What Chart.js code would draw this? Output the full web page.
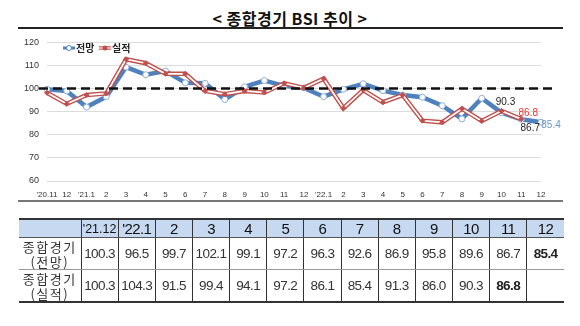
<!DOCTYPE html>
<html>
<head>
<meta charset="utf-8">
<script src="https://cdn.jsdelivr.net/npm/chart.js@4.4.0/dist/chart.umd.min.js"></script>
<style>
  body { margin: 0; background: #fff; }
  #wrap { position: relative; width: 580px; height: 326px; overflow: hidden; font-family: "Noto Sans CJK KR", sans-serif; }
  #title { position: absolute; left: 0; top: 6px; width: 580px; text-align: center; font-size: 16px; font-weight: bold; color: #111; letter-spacing: 0.5px; }
  #topLine { position: absolute; left: 18px; top: 27px; width: 545px; height: 2px; background: #222; }
  #botLine { position: absolute; left: 18px; top: 200px; width: 545px; height: 1.5px; background: #777; }
  #chartBox { position: absolute; left: 0; top: 29px; }
  #bsiTable { position: absolute; left: 19px; top: 218px; border-collapse: collapse; table-layout: fixed; width: 545px; }
  #bsiTable td { text-align: center; padding: 0; font-family: "Liberation Sans", Arial, sans-serif; color: #333; font-size: 13.5px; letter-spacing: -0.6px; border-left: 1px solid #333; }
  #bsiTable td:first-child { border-left: none; }
  #bsiTable tr.head td { background: #c6d9f1; height: 15px; border-top: 2px solid #333; border-bottom: 1px solid #555; color: #111; font-size: 15px; }
  #bsiTable tr.head td.small { font-size: 12.5px; letter-spacing: 0; }
  #bsiTable tr.r1 td { height: 31px; border-bottom: 1px solid #999; }
  #bsiTable tr.r2 td { height: 31px; border-bottom: 2px solid #333; }
  #bsiTable td.rowhead { font-family: "Noto Sans CJK KR", sans-serif; font-size: 13px; line-height: 15px; letter-spacing: 1.5px; color: #333; }
  #bsiTable td.bold { font-weight: bold; color: #222; }
</style>
</head>
<body>
<div id="wrap">
  <div id="title">&lt; 종합경기 BSI 추이 &gt;</div>
  <div id="topLine"></div>
  <div id="chartBox"><canvas id="bsiChart" width="580" height="172"></canvas></div>
  <div id="botLine"></div>
  <table id="bsiTable"></table>
</div>
<script>
// x axis months
const monthLabels = ["'20.11", "12", "'21.1", "2", "3", "4", "5", "6", "7", "8", "9", "10", "11", "12",
  "'22.1", "2", "3", "4", "5", "6", "7", "8", "9", "10", "11", "12"];
// 전망 (forecast)
const forecastValues = [99.7, 99, 92, 96.5, 109.3, 106, 107.6, 102.5, 102.3, 95.3, 100.8, 103.5, 101.2, 100.3,
  96.5, 99.7, 102.1, 99.1, 97.2, 96.3, 92.6, 86.9, 95.8, 89.6, 86.7, 85.4];
// 실적 (actual)
const actualValues = [98.2, 93.4, 97.2, 97.9, 112.7, 111, 106.4, 106.4, 99, 97.6, 99, 98.3, 102.3, 100.3,
  104.3, 91.5, 99.4, 94.1, 97.2, 86.1, 85.4, 91.3, 86.0, 90.3, 86.8, null];
const refLine = 100;
const yTicks = [60, 70, 80, 90, 100, 110, 120];

// table below the chart
const tableCols = ["'21.12", "'22.1", "2", "3", "4", "5", "6", "7", "8", "9", "10", "11", "12"];
const tableForecast = ["100.3", "96.5", "99.7", "102.1", "99.1", "97.2", "96.3", "92.6", "86.9", "95.8", "89.6", "86.7", "85.4"];
const tableActual = ["100.3", "104.3", "91.5", "99.4", "94.1", "97.2", "86.1", "85.4", "91.3", "86.0", "90.3", "86.8", ""];

const blue = "#4f81bd";
const red = "#c0504d";

// build table
function buildTable() {
  const table = document.getElementById("bsiTable");
  const cg = document.createElement("colgroup");
  const c0 = document.createElement("col");
  c0.style.width = "62px";
  cg.appendChild(c0);
  tableCols.forEach(() => {
    const c = document.createElement("col");
    c.style.width = "37.15px";
    cg.appendChild(c);
  });
  table.appendChild(cg);

  const head = document.createElement("tr");
  head.className = "head";
  head.appendChild(document.createElement("td"));
  tableCols.forEach((t, i) => {
    const td = document.createElement("td");
    td.textContent = t;
    if (i === 0) td.className = "small";
    head.appendChild(td);
  });
  table.appendChild(head);

  [["r1", "(전망)", tableForecast, 12], ["r2", "(실적)", tableActual, 11]].forEach(([cls, sub, vals, boldIdx]) => {
    const tr = document.createElement("tr");
    tr.className = cls;
    const th = document.createElement("td");
    th.className = "rowhead";
    th.innerHTML = "종합경기<br>" + sub;
    tr.appendChild(th);
    vals.forEach((v, i) => {
      const td = document.createElement("td");
      td.textContent = v;
      if (i === boldIdx) td.className = "bold";
      tr.appendChild(td);
    });
    table.appendChild(tr);
  });
}
buildTable();

// dashed 100 line, legend and point labels
const extrasPlugin = {
  id: "extras",
  afterDatasetsDraw(chart) {
    const ctx = chart.ctx;
    const area = chart.chartArea;
    const ys = chart.scales.y;
    const y = ys.getPixelForValue(refLine);
    ctx.save();
    ctx.strokeStyle = "#111";
    ctx.lineWidth = 2.5;
    ctx.setLineDash([9, 5]);
    ctx.beginPath();
    ctx.moveTo(area.left - 8, y);
    ctx.lineTo(area.right + 14, y);
    ctx.stroke();
    ctx.setLineDash([]);

    // legend
    const ly = 19;
    ctx.lineWidth = 3;
    ctx.strokeStyle = blue;
    ctx.beginPath(); ctx.moveTo(63, ly); ctx.lineTo(75, ly); ctx.stroke();
    ctx.fillStyle = "#fff";
    ctx.lineWidth = 1;
    ctx.beginPath(); ctx.arc(69, ly, 2.5, 0, Math.PI * 2); ctx.fill(); ctx.stroke();
    ctx.strokeStyle = red;
    ctx.lineWidth = 3.5;
    ctx.beginPath(); ctx.moveTo(99, ly); ctx.lineTo(111, ly); ctx.stroke();
    ctx.strokeStyle = "#fff";
    ctx.lineWidth = 1.2;
    ctx.beginPath(); ctx.moveTo(99, ly); ctx.lineTo(111, ly); ctx.stroke();
    ctx.fillStyle = red;
    ctx.beginPath(); ctx.arc(105, ly, 2.5, 0, Math.PI * 2); ctx.fill();
    ctx.fillStyle = "#222";
    ctx.font = "bold 10px 'Noto Sans CJK KR'";
    ctx.textBaseline = "middle";
    ctx.textAlign = "left";
    ctx.fillText("전망", 76, ly);
    ctx.fillText("실적", 112, ly);

    // value labels
    const xs = chart.scales.x;
    const nA = actualValues.length - 2;
    const nF = forecastValues.length - 2;
    const nL = forecastValues.length - 1;
    ctx.font = "10px 'Liberation Sans Narrow', 'Liberation Sans', sans-serif";
    ctx.textAlign = "center";
    ctx.fillStyle = "#222";
    ctx.fillText(actualValues[nA - 1].toFixed(1), xs.getPixelForValue(nA - 1) + 4, ys.getPixelForValue(actualValues[nA - 1]) - 9);
    ctx.fillStyle = "#e33";
    ctx.fillText(actualValues[nA].toFixed(1), xs.getPixelForValue(nA) + 7, ys.getPixelForValue(actualValues[nA]) - 6);
    ctx.fillStyle = "#222";
    ctx.fillText(forecastValues[nF].toFixed(1), xs.getPixelForValue(nF) + 9, ys.getPixelForValue(forecastValues[nF]) + 9);
    ctx.fillStyle = "#6a95c9";
    ctx.fillText(forecastValues[nL].toFixed(1), xs.getPixelForValue(nL) + 10, ys.getPixelForValue(forecastValues[nL]) + 3);
    ctx.restore();
  },
};

const xTickFont = { family: "'Liberation Sans Narrow', 'Liberation Sans', sans-serif", size: 8 };
const yTickFont = { family: "'Liberation Sans Narrow', 'Liberation Sans', sans-serif", size: 9 };

new Chart(document.getElementById("bsiChart").getContext("2d"), {
  type: "line",
  data: {
    labels: monthLabels,
    datasets: [
      {
        label: "전망",
        data: forecastValues,
        borderColor: blue,
        borderWidth: 4.5,
        pointRadius: 3,
        pointBackgroundColor: "#fff",
        pointBorderColor: "#8fb0d8",
        pointBorderWidth: 1,
        tension: 0,
        order: 4,
      },
      {
        label: "실적",
        data: actualValues,
        borderColor: red,
        borderWidth: 4.5,
        pointRadius: 0,
        tension: 0,
        order: 3,
      },
      {
        label: "실적-inner",
        data: actualValues,
        borderColor: "#fff",
        borderWidth: 1.7,
        pointRadius: 0,
        tension: 0,
        order: 2,
      },
      {
        label: "실적-points",
        data: actualValues,
        showLine: false,
        pointRadius: 2.5,
        pointStyle: "rectRot",
        pointBackgroundColor: red,
        pointBorderColor: red,
        order: 1,
      },
    ],
  },
  options: {
    responsive: false,
    devicePixelRatio: 1,
    animation: false,
    layout: { padding: { left: 7, right: 39, top: 11, bottom: 2 } },
    plugins: {
      legend: { display: false },
      tooltip: { enabled: false },
    },
    scales: {
      x: {
        offset: false,
        grid: { display: false },
        border: { display: false },
        ticks: { font: xTickFont, color: "#333", maxRotation: 0, autoSkip: false, padding: 1 },
        afterFit: (s) => { s.height = 18; },
      },
      y: {
        min: 60,
        max: 120,
        afterBuildTicks: (s) => { s.ticks = yTicks.map((v) => ({ value: v })); },
        grid: { color: "#dcdcdc", drawTicks: false },
        border: { display: false },
        ticks: { font: yTickFont, color: "#333", padding: 8 },
        afterFit: (s) => { s.width = 40; },
      },
    },
  },
  plugins: [extrasPlugin],
});
</script>
</body>
</html>
